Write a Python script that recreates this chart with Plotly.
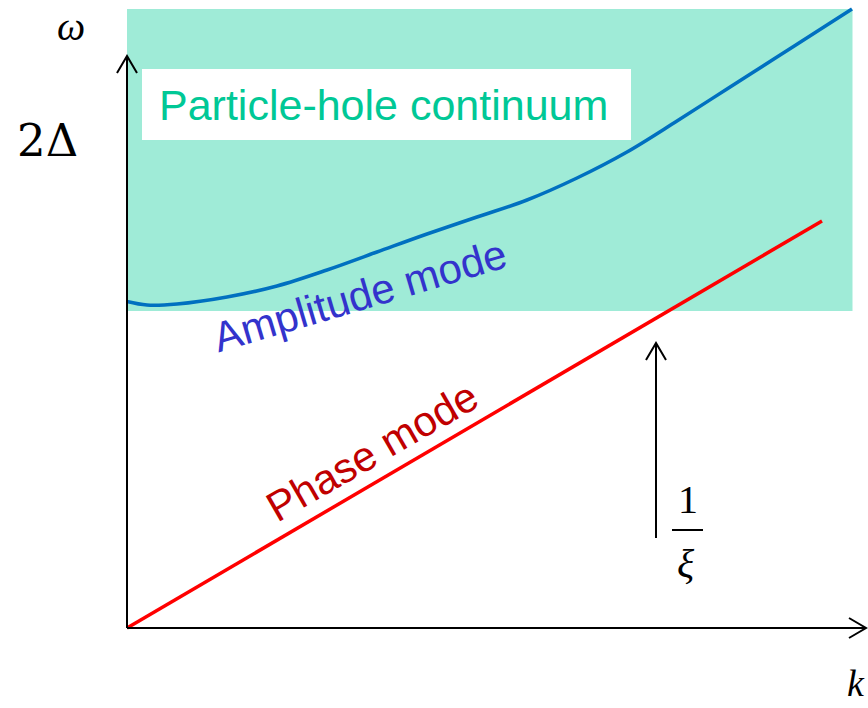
import plotly.graph_objects as go

# ---- data (k and omega in schematic units; origin at the axes crossing) ----
k_amp = [0.00, 0.2, 0.5, 1.0, 1.5, 2.0, 2.5, 3.0, 3.5, 4.0, 4.5, 5.0, 5.5, 6.0, 6.5, 7.0, 7.25]
w_amp = [3.265, 3.23, 3.24, 3.31, 3.42, 3.58, 3.76, 3.94, 4.11, 4.28, 4.50, 4.76, 5.07, 5.39, 5.71, 6.03, 6.19]
k_phase = [0.0, 6.95]
w_phase = [0.0, 4.07]
k_cont = [0.0, 7.255]          # particle-hole continuum extent in k
w_cont = [3.17, 6.19]          # from 2Δ upward
k_box = [0.15, 5.04]           # white label box
w_box = [4.88, 5.59]
k_axis_end = 7.39
w_axis_end = 5.72
k_xi = 5.29
w_xi = [0.90, 2.85]

TEAL = "rgb(159,235,215)"
HEAD_L = 0.17
HEAD_W = 0.10

fig = go.Figure()

# continuum and label box
fig.add_shape(type="rect", x0=k_cont[0], x1=k_cont[1], y0=w_cont[0], y1=w_cont[1],
              fillcolor=TEAL, line_width=0, layer="below")
fig.add_shape(type="rect", x0=k_box[0], x1=k_box[1], y0=w_box[0], y1=w_box[1],
              fillcolor="white", line_width=0, layer="below")

# amplitude mode
fig.add_trace(go.Scatter(x=k_amp, y=w_amp, mode="lines",
                         line=dict(color="#0070C0", width=3.5, shape="spline", smoothing=1.0),
                         hoverinfo="skip", showlegend=False))
# phase mode
fig.add_trace(go.Scatter(x=k_phase, y=w_phase, mode="lines", line=dict(color="#FF0000", width=3.5),
                         hoverinfo="skip", showlegend=False))


def arrow_v(x, y0, y1, width=2):
    fig.add_trace(go.Scatter(x=[x, x], y=[y0, y1], mode="lines", line=dict(color="black", width=width),
                             hoverinfo="skip", showlegend=False))
    fig.add_trace(go.Scatter(x=[x - HEAD_W, x, x + HEAD_W], y=[y1 - HEAD_L, y1, y1 - HEAD_L], mode="lines",
                             line=dict(color="black", width=width), hoverinfo="skip", showlegend=False))


def arrow_h(y, x0, x1, width=2):
    fig.add_trace(go.Scatter(x=[x0, x1], y=[y, y], mode="lines", line=dict(color="black", width=width),
                             hoverinfo="skip", showlegend=False))
    fig.add_trace(go.Scatter(x=[x1 - HEAD_L, x1, x1 - HEAD_L], y=[y + HEAD_W, y, y - HEAD_W], mode="lines",
                             line=dict(color="black", width=width), hoverinfo="skip", showlegend=False))


arrow_v(0, 0, w_axis_end)
arrow_h(0, 0, k_axis_end)
arrow_v(k_xi, w_xi[0], w_xi[1])

# fraction bar for 1/xi
fig.add_trace(go.Scatter(x=[5.45, 5.76], y=[0.98, 0.98], mode="lines", line=dict(color="black", width=2),
                         hoverinfo="skip", showlegend=False))

SANS = "Arial, Liberation Sans, sans-serif"
SERIF = "Liberation Serif, DejaVu Serif, serif"

ann = [
    dict(text="Particle-hole continuum", x=2.56, y=5.23, font=dict(family=SANS, size=43, color="rgb(0,200,150)")),
    dict(text="Amplitude mode", x=2.33, y=3.33, textangle=-16.5, font=dict(family=SANS, size=42, color="#3333CC")),
    dict(text="Phase mode", x=2.45, y=1.77, textangle=-30, font=dict(family=SANS, size=42, color="#C00000")),
    dict(text="<i>ω</i>", x=-0.56, y=6.02, font=dict(family=SERIF, size=40, color="black")),
    dict(text="2Δ", x=-0.80, y=4.88, font=dict(family="DejaVu Serif, serif", size=45, color="black")),
    dict(text="<i>k</i>", x=7.29, y=-0.55, font=dict(family=SERIF, size=38, color="black")),
    dict(text="1", x=5.61, y=1.29, font=dict(family=SERIF, size=40, color="black")),
    dict(text="<i>ξ</i>", x=5.59, y=0.65, font=dict(family=SERIF, size=40, color="black")),
]
for a in ann:
    fig.add_annotation(showarrow=False, xref="x", yref="y", xanchor="center", yanchor="middle", **a)

fig.update_layout(
    width=868, height=708, autosize=False,
    margin=dict(l=0, r=0, t=0, b=0, pad=0),
    paper_bgcolor="white", plot_bgcolor="white",
    xaxis=dict(range=[-1.27, 7.41], visible=False, fixedrange=True),
    yaxis=dict(range=[-0.80, 6.28], visible=False, fixedrange=True),
    showlegend=False,
)

fig.write_html("out.html")
